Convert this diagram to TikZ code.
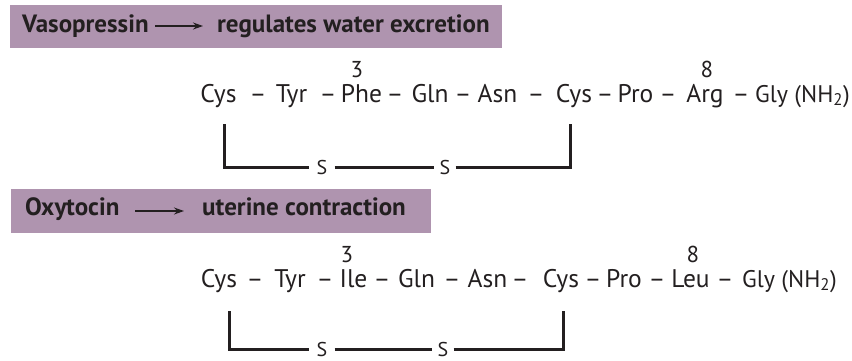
\documentclass[tikz,border=0pt]{standalone}
\usepackage{fontspec}
\setmainfont{PT Sans}
\usetikzlibrary{arrows.meta}
\definecolor{boxc}{RGB}{175,148,175}
\definecolor{txt}{RGB}{35,31,32}
\begin{document}
\begin{tikzpicture}[x=1pt,y=-1pt,
  res/.style={font=\fontsize{25.5}{29}\selectfont, inner sep=0pt, anchor=base, text=txt},
  gly/.style={font=\fontsize{24}{28}\selectfont, inner sep=0pt, anchor=base west, text=txt},
  num/.style={font=\fontsize{23}{27}\selectfont, inner sep=0pt, anchor=base, text=txt},
  hdr/.style={font=\bfseries\fontsize{25}{29}\selectfont, inner sep=0pt, anchor=base west, text=txt},
  sulf/.style={font=\fontsize{20}{24}\selectfont, inner sep=0pt, text=txt},
  bond/.style={line width=3pt, draw=txt},
  harrow/.style={line width=1.4pt, draw=txt, -{Stealth[length=10pt,width=7pt]}}]
\useasboundingbox (0,0) rectangle (852,360);

% ---------- header 1 ----------
\fill[boxc] (10,5) rectangle (502,48);
\node[hdr] (vaso) at (22,32) {Vasopressin};
\node[hdr] (regw) at (217,32) {regulates water excretion};
\coordinate (a1s) at (155,26);
\coordinate (a1e) at (203,26);
\draw[harrow] (a1s) -- (a1e);

% ---------- sequence 1 ----------
\node[num] (n3a) at (357,77) {3};
\node[num] (n8a) at (707,77) {8};
\node[res] (c1a) at (218.5,102) {Cys};
\node[res] at (258,102) {–};
\node[res] (y2a) at (291.5,102) {Tyr};
\node[res] at (328,102) {–};
\node[res] (f3a) at (361.5,102) {Phe};
\node[res] at (395,102) {–};
\node[res] (q4a) at (430,102) {Gln};
\node[res] at (463,102) {–};
\node[res] (n5a) at (497.5,102) {Asn};
\node[res] at (536,102) {–};
\node[res] (c6a) at (574,102) {Cys};
\node[res] at (605,102) {–};
\node[res] (p7a) at (635.5,102) {Pro};
\node[res] at (668,102) {–};
\node[res] (r8a) at (705,102) {Arg};
\node[res] at (741,102) {–};
\node[gly] (g9a) at (755,102) {Gly (NH\textsubscript{2})};

% bridge 1
\coordinate (t1a) at (224,124);
\coordinate (t2a) at (570,124);
\node[sulf] (s1a) at (322,167) {S};
\node[sulf] (s2a) at (445,167) {S};
\draw[bond] (t1a) |- ([xshift=-7pt]s1a.west);
\draw[bond] ([xshift=7pt]s1a.east) -- ([xshift=-5pt]s2a.west);
\draw[bond] ([xshift=5pt]s2a.east) -| (t2a);

% ---------- header 2 ----------
\fill[boxc] (11,189) rectangle (431,233);
\node[hdr] (oxy) at (25,215) {Oxytocin};
\node[hdr] (uter) at (202,215) {uterine contraction};
\coordinate (a2s) at (135,211);
\coordinate (a2e) at (184,211);
\draw[harrow] (a2s) -- (a2e);

% ---------- sequence 2 ----------
\node[num] (n3b) at (347,262) {3};
\node[num] (n8b) at (693,262) {8};
\node[res] (c1b) at (219,287) {Cys};
\node[res] at (255,287) {–};
\node[res] (y2b) at (290,287) {Tyr};
\node[res] at (325,287) {–};
\node[res] (i3b) at (353.5,287) {Ile};
\node[res] at (382,287) {–};
\node[res] (q4b) at (416.5,287) {Gln};
\node[res] at (452,287) {–};
\node[res] (n5b) at (487.5,287) {Asn};
\node[res] at (520,287) {–};
\node[res] (c6b) at (561,287) {Cys};
\node[res] at (593,287) {–};
\node[res] (p7b) at (624,287) {Pro};
\node[res] at (657,287) {–};
\node[res] (l8b) at (690.5,287) {Leu};
\node[res] at (725,287) {–};
\node[gly] (g9b) at (742,287) {Gly (NH\textsubscript{2})};

% bridge 2
\coordinate (t1b) at (229,311);
\coordinate (t2b) at (563,311);
\node[sulf] (s1b) at (322,349) {S};
\node[sulf] (s2b) at (443,349) {S};
\draw[bond] (t1b) |- ([xshift=-7pt]s1b.west);
\draw[bond] ([xshift=7pt]s1b.east) -- ([xshift=-5pt]s2b.west);
\draw[bond] ([xshift=5pt]s2b.east) -| (t2b);
\end{tikzpicture}
\end{document}
